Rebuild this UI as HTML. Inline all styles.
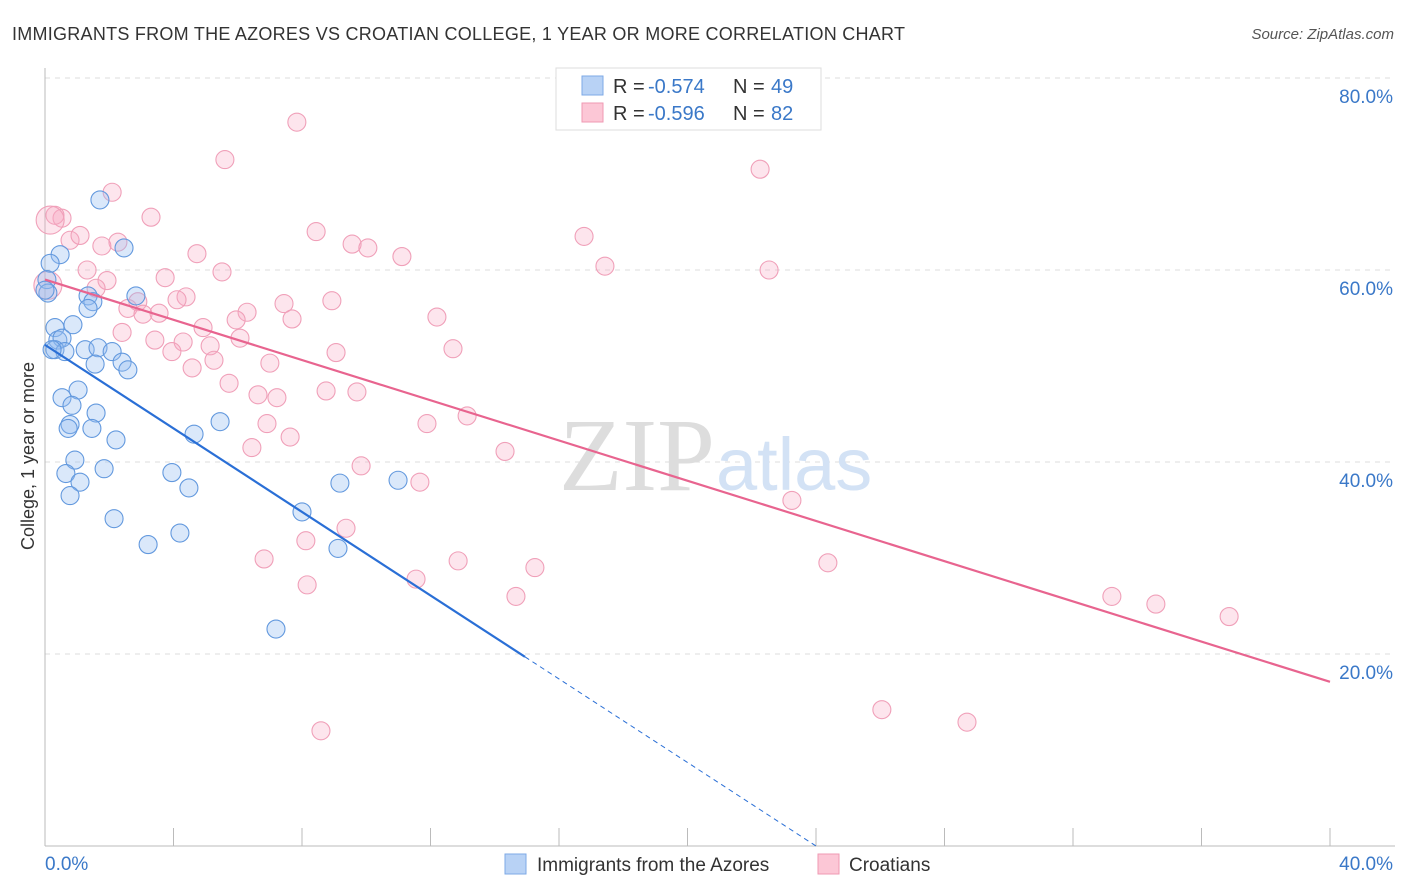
<!DOCTYPE html>
<html><head><meta charset="utf-8"><style>
body{margin:0;background:#fff;font-family:"Liberation Sans",sans-serif;}
svg{display:block}
</style></head><body>
<svg id="chart" width="1406" height="892" xmlns="http://www.w3.org/2000/svg">
<text x="12" y="40" font-size="18" fill="#333" textLength="893">IMMIGRANTS FROM THE AZORES VS CROATIAN COLLEGE, 1 YEAR OR MORE CORRELATION CHART</text>
<text x="1394" y="39" font-size="15" fill="#555" font-style="italic" text-anchor="end">Source: ZipAtlas.com</text>
<g id="grid"></g>
<g id="axes"></g>
<text x="715" y="490" font-size="104" fill="#ddd" text-anchor="end" font-family="Liberation Serif,serif">ZIP</text>
<text x="716" y="490" font-size="74" fill="#d3e2f5">atlas</text>
<g id="marks"></g>
<g id="lines"></g>
<text transform="translate(34,456) rotate(-90)" font-size="18" fill="#333" text-anchor="middle">College, 1 year or more</text>
<g>
<rect x="556" y="68" width="265" height="62" fill="#fff" stroke="#ddd"/>
<rect x="582" y="76" width="21" height="19" fill="#b8d2f5" stroke="#7ea9e6"/>
<rect x="582" y="103" width="21" height="19" fill="#fcc7d6" stroke="#ef9ab3"/>
<text y="93" font-size="20" fill="#333"><tspan x="613">R =</tspan><tspan x="648" fill="#3a78c8">-0.574</tspan><tspan x="733">N =</tspan><tspan x="771" fill="#3a78c8">49</tspan></text>
<text y="120" font-size="20" fill="#333"><tspan x="613">R =</tspan><tspan x="648" fill="#3a78c8">-0.596</tspan><tspan x="733">N =</tspan><tspan x="771" fill="#3a78c8">82</tspan></text>
</g>
<g>
<rect x="505" y="854" width="21" height="20" fill="#b8d2f5" stroke="#7ea9e6"/>
<text x="537" y="871" font-size="19" fill="#333">Immigrants from the Azores</text>
<rect x="818" y="854" width="21" height="20" fill="#fcc7d6" stroke="#ef9ab3"/>
<text x="849" y="871" font-size="19" fill="#333">Croatians</text>
</g>
</svg>
<script>
const yTicks=[20,40,60,80];
const xTickLabels=["0.0%","40.0%"];
const blueX=[1.71,2.46,0.47,0.16,0.06,0.09,1.34,1.49,1.34,2.83,0.31,0.87,0.40,0.53,0.31,0.62,1.25,1.65,2.09,1.56,2.40,2.58,1.03,0.53,0.84,1.59,0.78,1.46,0.72,2.21,4.64,5.45,0.93,1.84,0.65,1.09,0.78,3.95,4.48,10.99,9.18,2.15,8.0,3.21,4.20,9.12,7.19,0,0.22];
const blueY=[67.3,62.3,61.6,60.7,59.0,57.6,57.3,56.7,56.0,57.3,54.0,54.3,52.7,52.9,51.7,51.5,51.7,51.9,51.5,50.2,50.4,49.6,47.5,46.7,45.9,45.1,43.9,43.5,43.5,42.3,42.9,44.2,40.2,39.3,38.8,37.9,36.5,38.9,37.3,38.1,37.8,34.1,34.8,31.4,32.6,31.0,22.6,57.9,51.7];
const pinkX=[7.84,5.60,22.26,2.09,0.53,3.30,0.31,0.78,1.09,2.27,1.77,8.44,9.56,10.05,16.78,4.73,11.11,17.43,22.54,1.31,5.51,3.74,1.93,1.59,8.93,2.89,4.39,4.11,7.44,2.58,3.05,3.55,6.29,5.95,12.20,7.69,4.92,2.40,6.07,3.42,4.30,5.14,3.95,9.06,12.70,7.00,5.26,4.58,5.73,6.63,8.75,9.71,7.22,13.14,11.89,6.91,7.63,6.44,14.32,9.84,11.67,23.25,9.37,8.12,6.82,12.86,24.37,15.25,11.55,8.16,14.66,33.21,34.58,36.86,26.05,28.70,8.59,0.09,0.16];
const pinkY=[75.4,71.5,70.5,68.1,65.4,65.5,65.7,63.1,63.6,62.9,62.5,64.0,62.7,62.3,63.5,61.7,61.4,60.4,60.0,60.0,59.8,59.2,58.9,58.1,56.8,56.7,57.2,56.9,56.5,56.0,55.4,55.5,55.6,54.8,55.1,54.9,54.0,53.5,52.9,52.7,52.5,52.1,51.5,51.4,51.8,50.3,50.6,49.8,48.2,47.0,47.4,47.3,46.7,44.8,44.0,44.0,42.6,41.5,41.1,39.6,37.9,36.0,33.1,31.8,29.9,29.7,29.5,29.0,27.8,27.2,26.0,26.0,25.2,23.9,14.2,12.9,12.0,58.4,65.2];
const pinkBig=[77,78];
const blueFit=[52.2,-2.175];
const pinkFit=[59.0,-1.0475];
const blueSolidEnd=14.94, blueDashEnd=24;

const NS="http://www.w3.org/2000/svg";
const sx=v=>45+v*32.125, sy=v=>846-v*9.6;
function mk(t,a,p){const e=document.createElementNS(NS,t);for(const k in a)e.setAttribute(k,a[k]);p.appendChild(e);return e;}
const grid=document.getElementById('grid'),axes=document.getElementById('axes'),marks=document.getElementById('marks'),lines=document.getElementById('lines');
yTicks.forEach(v=>{
 const l=mk('line',{x1:45,x2:1395,y1:sy(v),y2:sy(v),stroke:'#ddd','stroke-dasharray':'5,5'},grid);
 
 
 const t=mk('text',{x:1393,y:sy(v)+25,'font-size':19,fill:'#3a78c8','text-anchor':'end'},axes);
 t.textContent=v.toFixed(1)+'%';
 
 
});
const ax=mk('line',{x1:45,x2:1395,y1:846,y2:846,stroke:'#bbb'},axes);


const ay=mk('line',{x1:45,x2:45,y1:68,y2:846,stroke:'#bbb'},axes);


for(let i=1;i<=10;i++){
 const tk=mk('line',{x1:sx(i*4),x2:sx(i*4),y1:828,y2:846,stroke:'#bbb'},axes);
 
 
}
[[0,'start',45],[40,'end',1393]].forEach((d,i)=>{
 const t=mk('text',{x:d[2],y:870,'font-size':19,fill:'#3a78c8','text-anchor':d[1]},axes);
 t.textContent=xTickLabels[i];
 
 
});
pinkX.forEach((x,i)=>{
 const c=mk('circle',{cx:sx(x),cy:sy(pinkY[i]),r:pinkBig.includes(i)?14:9,fill:'rgba(248,170,195,0.3)',stroke:'#f0a0b9','stroke-width':1.1},marks);
 
 
});
blueX.forEach((x,i)=>{
 const c=mk('circle',{cx:sx(x),cy:sy(blueY[i]),r:9,fill:'rgba(150,190,240,0.35)',stroke:'#6399de','stroke-width':1.1},marks);
 
 
});
const f=(p,x)=>p[0]+p[1]*x;
const l1=mk('line',{x1:sx(0),y1:sy(f(blueFit,0)),x2:sx(blueSolidEnd),y2:sy(f(blueFit,blueSolidEnd)),stroke:'#2a6fd6','stroke-width':2.2},lines);


const l2=mk('line',{x1:sx(blueSolidEnd),y1:sy(f(blueFit,blueSolidEnd)),x2:sx(blueDashEnd),y2:sy(f(blueFit,blueDashEnd)),stroke:'#2a6fd6','stroke-width':1,'stroke-dasharray':'5,4'},lines);


const l3=mk('line',{x1:sx(0),y1:sy(f(pinkFit,0)),x2:sx(40),y2:sy(f(pinkFit,40)),stroke:'#e8648f','stroke-width':2.2},lines);


</script>
</body></html>
